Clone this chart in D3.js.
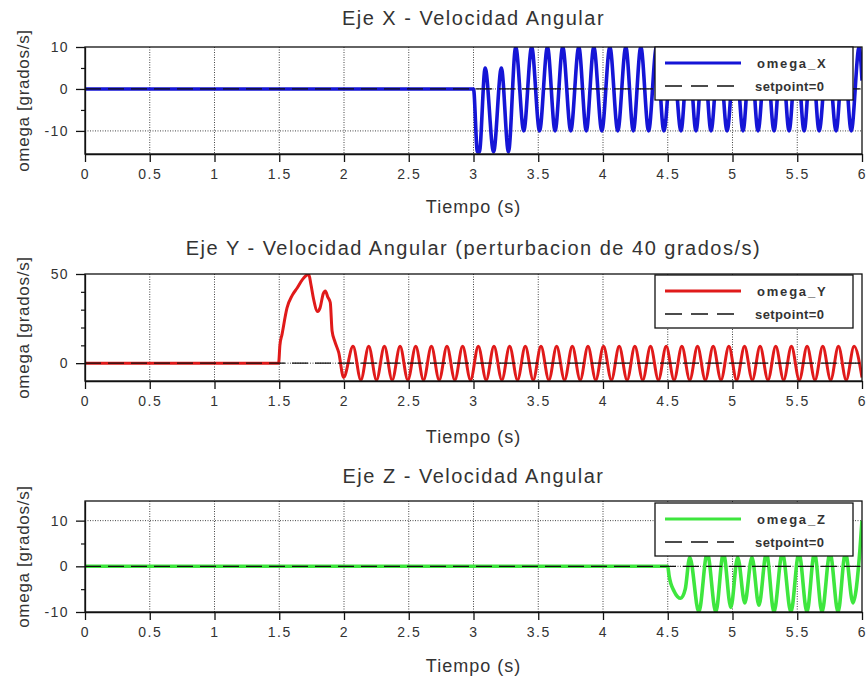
<!DOCTYPE html>
<html>
<head>
<meta charset="utf-8">
<script src="https://cdn.jsdelivr.net/npm/d3@7"></script>
<style>
  body { margin: 0; background: #fff; }
  svg { display: block; }
  text { font-family: "Liberation Sans", Arial, sans-serif; fill: #333; }
</style>
</head>
<body>
<div id="chart"></div>
<script>
// Tick labels shared by the three panels
var timeTicks = [0, 0.5, 1, 1.5, 2, 2.5, 3, 3.5, 4, 4.5, 5, 5.5, 6];

// Setpoint (dashed reference line), same on every panel
var setpoint = [[0, 0], [6, 0]];

// omega_X [time s, grados/s]
var omegaX = [
  [0, 0], [3.0, 0], [3.03, -15], [3.045, -15], [3.09, 5], [3.155, -15], [3.215, 5],
  [3.27, -15], [3.326, 10], [3.388, -10], [3.449, 10], [3.51, -10], [3.571, 10],
  [3.63, -10], [3.689, 10], [3.751, -10], [3.813, 10], [3.871, -10], [3.929, 10],
  [3.991, -10], [4.053, 10], [4.114, -10], [4.176, 10], [4.234, -10], [4.292, 10],
  [4.352, -10], [4.413, 10], [4.47, -10], [4.536, 10], [4.602, -10], [4.66, 10],
  [4.718, -10], [4.776, 10], [4.834, -10], [4.896, 10], [4.958, -10], [5.02, 10],
  [5.081, -10], [5.139, 10], [5.197, -10], [5.259, 10], [5.321, -10], [5.379, 10],
  [5.437, -10], [5.495, 10], [5.553, -10], [5.611, 10], [5.669, -10], [5.735, 10],
  [5.8, -10], [5.858, 10], [5.917, -10], [5.978, 10], [6.0, 2]
];

// omega_Y: 40 grados/s disturbance at 1.5 s, then oscillation
var omegaY = [
  [0, 0], [1.495, 0], [1.505, 10], [1.521, 16], [1.56, 31], [1.6, 38], [1.637, 42],
  [1.68, 47], [1.714, 49.5], [1.727, 50], [1.745, 44], [1.765, 36], [1.796, 29],
  [1.815, 31], [1.84, 39], [1.856, 40.5], [1.875, 37], [1.894, 34], [1.908, 18],
  [1.93, 12], [1.959, 6], [1.997, -8],
  [2.07, 9.5], [2.13, -9.5], [2.191, 9.5], [2.251, -9.5], [2.312, 9.5], [2.372, -9.5],
  [2.433, 9.5], [2.493, -9.5], [2.554, 9.5], [2.614, -9.5], [2.675, 9.5], [2.735, -9.5],
  [2.795, 9.5], [2.856, -9.5], [2.916, 9.5], [2.977, -9.5], [3.037, 9.5], [3.098, -9.5],
  [3.158, 9.5], [3.219, -9.5], [3.279, 9.5], [3.34, -9.5], [3.4, 9.5], [3.461, -9.5],
  [3.521, 9.5], [3.582, -9.5], [3.642, 9.5], [3.703, -9.5], [3.763, 9.5], [3.824, -9.5],
  [3.884, 9.5], [3.944, -9.5], [4.004, 9.5], [4.065, -9.5], [4.125, 9.5], [4.186, -9.5],
  [4.246, 9.5], [4.307, -9.5], [4.367, 9.5], [4.428, -9.5], [4.488, 9.5], [4.549, -9.5],
  [4.609, 9.5], [4.67, -9.5], [4.73, 9.5], [4.79, -9.5], [4.851, 9.5], [4.911, -9.5],
  [4.972, 9.5], [5.032, -9.5], [5.093, 9.5], [5.153, -9.5], [5.213, 9.5], [5.274, -9.5],
  [5.334, 9.5], [5.395, -9.5], [5.455, 9.5], [5.516, -9.5], [5.576, 9.5], [5.637, -9.5],
  [5.697, 9.5], [5.758, -9.5], [5.818, 9.5], [5.878, -9.5], [5.939, 9.5], [6.0, -8]
];

// omega_Z
var omegaZ = [
  [0, 0], [4.5, 0], [4.51, -2], [4.55, -5.5], [4.6, -7], [4.635, -5], [4.67, 2],
  [4.74, -10], [4.805, 3], [4.871, -10], [4.93, 3], [4.987, -9], [5.04, 2],
  [5.095, -8], [5.15, 2], [5.204, -8.5], [5.262, 3], [5.32, -10], [5.385, 3],
  [5.451, -10], [5.513, 3], [5.575, -10], [5.633, 3], [5.691, -10], [5.753, 3],
  [5.815, -10], [5.872, 3], [5.93, -8], [5.985, 4], [6.0, 10]
];

var titles = [
  "Eje X - Velocidad Angular",
  "Eje Y - Velocidad Angular (perturbacion de 40 grados/s)",
  "Eje Z - Velocidad Angular"
];

var W = 867, H = 679;
var left = 85, right = 862;

var panels = [
  { title: titles[0], series: omegaX, name: "omega_X", color: "#1515d6",
    yDomain: [-15.5, 10], yTicks: [-10, 0, 10], yMinor: [-5, 5],
    top: 47, bottom: 154, titleY: 25, labelY: 213, legendTop: 47 },
  { title: titles[1], series: omegaY, name: "omega_Y", color: "#e01a1a",
    yDomain: [-10, 50], yTicks: [0, 50], yMinor: [10, 20, 30, 40],
    top: 274, bottom: 381, titleY: 255, labelY: 443, legendTop: 275 },
  { title: titles[2], series: omegaZ, name: "omega_Z", color: "#3ee63e",
    yDomain: [-10, 14.3], yTicks: [-10, 0, 10], yMinor: [-5, 5],
    top: 501, bottom: 612, titleY: 483, labelY: 672, legendTop: 503 }
];

var svg = d3.select("#chart").append("svg")
  .attr("width", W)
  .attr("height", H);

var x = d3.scaleLinear().domain([0, 6]).range([left, right]);

panels.forEach(function (p, i) {
  var y = d3.scaleLinear().domain(p.yDomain).range([p.bottom, p.top]);
  var g = svg.append("g");

  // Title
  g.append("text")
    .attr("x", (left + right) / 2)
    .attr("y", p.titleY)
    .attr("text-anchor", "middle")
    .attr("font-size", "20px")
    .style("letter-spacing", "1.5px")
    .text(p.title);

  // Dotted grid
  g.selectAll(".vgrid")
    .data(timeTicks.filter(function (t) { return t > 0 && t < 6; }))
    .enter().append("line")
    .attr("x1", function (d) { return x(d); })
    .attr("x2", function (d) { return x(d); })
    .attr("y1", p.top).attr("y2", p.bottom)
    .attr("stroke", "#444").attr("stroke-width", 1)
    .attr("stroke-dasharray", "1,1.5");

  g.selectAll(".hgrid")
    .data(p.yTicks.filter(function (v) { return v > p.yDomain[0] && v < p.yDomain[1]; }))
    .enter().append("line")
    .attr("x1", left).attr("x2", right)
    .attr("y1", function (d) { return y(d); })
    .attr("y2", function (d) { return y(d); })
    .attr("stroke", "#444").attr("stroke-width", 1)
    .attr("stroke-dasharray", "1,1.5");

  // Clip for the signal
  var clipId = "clip" + i;
  svg.append("clipPath").attr("id", clipId)
    .append("rect")
    .attr("x", left).attr("y", p.top)
    .attr("width", right - left).attr("height", p.bottom - p.top);

  var line = d3.line()
    .curve(d3.curveMonotoneX)
    .x(function (d) { return x(d[0]); })
    .y(function (d) { return y(d[1]); });

  g.append("path")
    .datum(p.series)
    .attr("clip-path", "url(#" + clipId + ")")
    .attr("fill", "none")
    .attr("stroke", p.color)
    .attr("stroke-width", i === 1 ? 3 : 3.6)
    .attr("stroke-linejoin", "round")
    .attr("d", line);

  g.append("path")
    .datum(setpoint)
    .attr("fill", "none")
    .attr("stroke", "#111")
    .attr("stroke-width", 1.3)
    .attr("stroke-dasharray", "16,7")
    .attr("d", d3.line()
      .x(function (d) { return x(d[0]); })
      .y(function (d) { return y(d[1]); }));

  // Frame
  g.append("rect")
    .attr("x", left).attr("y", p.top)
    .attr("width", right - left).attr("height", p.bottom - p.top)
    .attr("fill", "none").attr("stroke", "#111").attr("stroke-width", 1.3);

  // X axis
  var xAxis = g.append("g")
    .attr("transform", "translate(0," + p.bottom + ")")
    .call(d3.axisBottom(x).tickValues(timeTicks).tickSize(8).tickSizeOuter(0)
      .tickPadding(7).tickFormat(function (d) { return String(d); }));
  xAxis.select(".domain").attr("stroke", "#111").attr("stroke-width", 1.3);
  xAxis.selectAll(".tick line").attr("stroke", "#111").attr("stroke-width", 1.3);
  xAxis.selectAll(".tick text")
    .attr("font-size", "14px")
    .attr("font-family", "Liberation Sans, Arial, sans-serif")
    .attr("fill", "#333")
    .style("letter-spacing", "1.6px");

  // Y axis (major + minor)
  var yAxis = g.append("g")
    .attr("transform", "translate(" + left + ",0)")
    .call(d3.axisLeft(y).tickValues(p.yTicks).tickSize(9).tickSizeOuter(0)
      .tickPadding(7).tickFormat(function (d) { return String(d); }));
  yAxis.select(".domain").attr("stroke", "#111").attr("stroke-width", 1.3);
  yAxis.selectAll(".tick line").attr("stroke", "#111").attr("stroke-width", 1.3);
  yAxis.selectAll(".tick text")
    .attr("font-size", "14px")
    .attr("font-family", "Liberation Sans, Arial, sans-serif")
    .attr("fill", "#333")
    .style("letter-spacing", "1.4px");

  g.append("g")
    .attr("transform", "translate(" + left + ",0)")
    .call(d3.axisLeft(y).tickValues(p.yMinor).tickSize(4).tickSizeOuter(0)
      .tickFormat(""))
    .call(function (a) {
      a.select(".domain").remove();
      a.selectAll(".tick line").attr("stroke", "#111").attr("stroke-width", 1.2);
    });

  // Axis labels
  g.append("text")
    .attr("x", (left + right) / 2)
    .attr("y", p.labelY)
    .attr("text-anchor", "middle")
    .attr("font-size", "18px")
    .style("letter-spacing", "1px")
    .text("Tiempo (s)");

  g.append("text")
    .attr("transform", "translate(29," + ((p.top + p.bottom) / 2) + ") rotate(-90)")
    .attr("text-anchor", "middle")
    .attr("font-size", "17px")
    .style("letter-spacing", "0.7px")
    .text("omega [grados/s]");

  // Legend
  var lx = 655, lw = 198, lh = 53;
  var lg = g.append("g").attr("transform", "translate(" + lx + "," + p.legendTop + ")");
  lg.append("rect")
    .attr("width", lw).attr("height", lh)
    .attr("fill", "#fff").attr("stroke", "#111").attr("stroke-width", 1.3);
  lg.append("line")
    .attr("x1", 10).attr("x2", 86).attr("y1", 16).attr("y2", 16)
    .attr("stroke", p.color).attr("stroke-width", 3);
  lg.append("line")
    .attr("x1", 10).attr("x2", 86).attr("y1", 39).attr("y2", 39)
    .attr("stroke", "#111").attr("stroke-width", 1.3)
    .attr("stroke-dasharray", "17,9");
  lg.append("text")
    .attr("x", 102).attr("y", 16)
    .attr("dy", "0.35em")
    .attr("font-family", "DejaVu Sans, sans-serif")
    .attr("font-weight", "bold")
    .attr("font-size", "13px")
    .style("letter-spacing", "1.8px")
    .text(p.name);
  lg.append("text")
    .attr("x", 100).attr("y", 39)
    .attr("dy", "0.35em")
    .attr("font-family", "DejaVu Sans, sans-serif")
    .attr("font-weight", "bold")
    .attr("font-size", "13px")
    .style("letter-spacing", "0.4px")
    .text("setpoint=0");
});
</script>
</body>
</html>
